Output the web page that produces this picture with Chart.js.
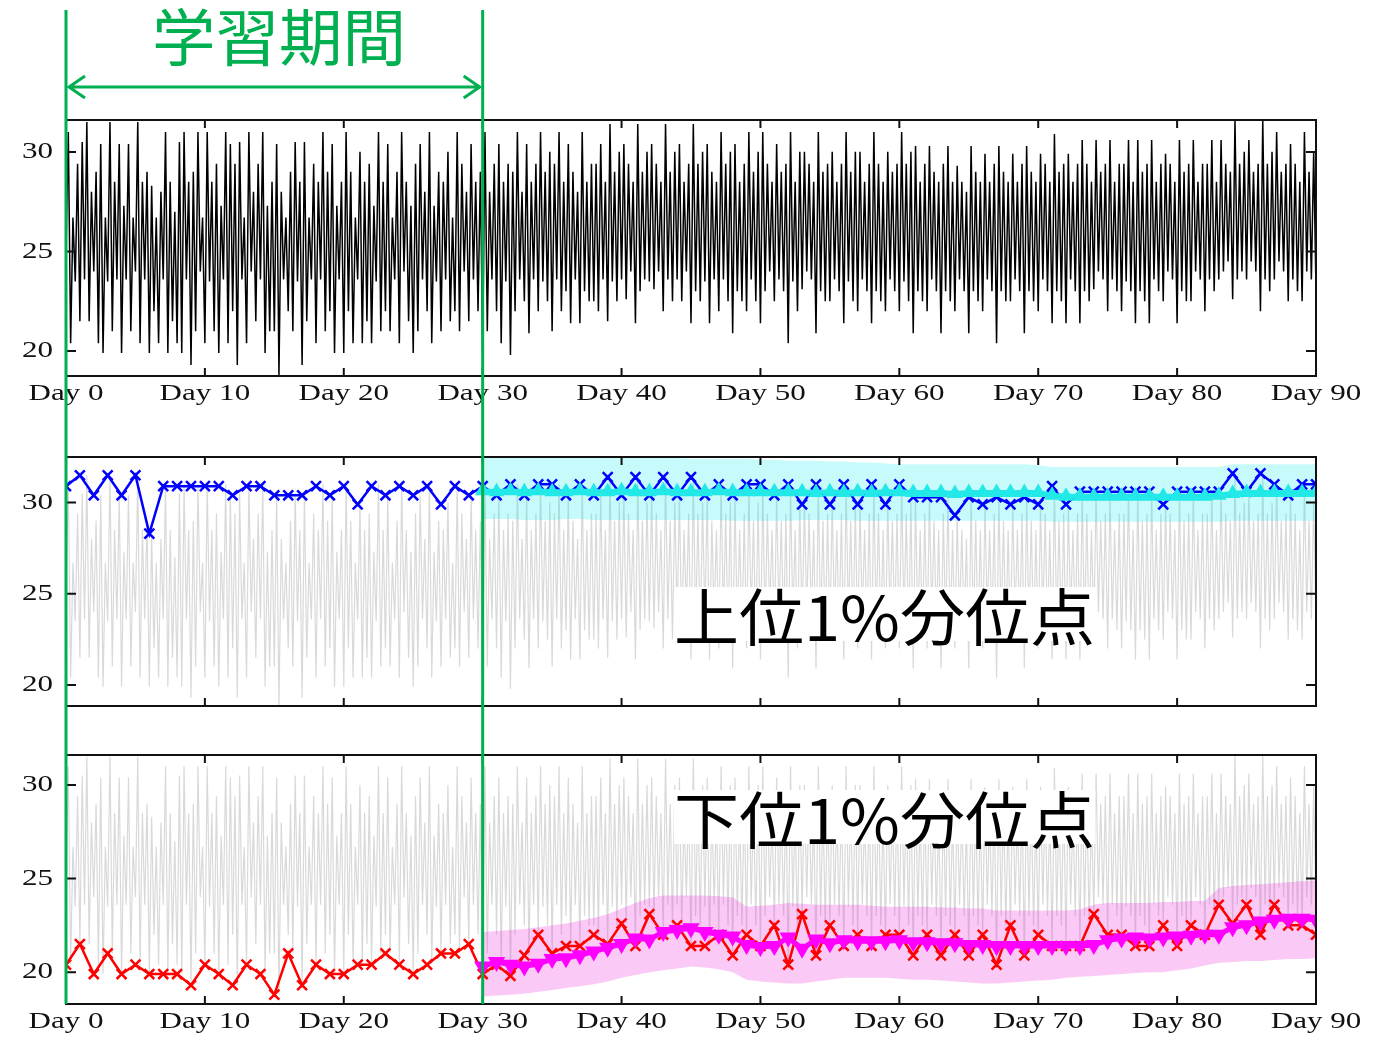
<!DOCTYPE html>
<html>
<head>
<meta charset="utf-8">
<script src="https://cdn.jsdelivr.net/npm/chart.js@4.4.1/dist/chart.umd.min.js"></script>
<style>
body { margin: 0; background: #fff; width: 1388px; height: 1040px; overflow: hidden; position: relative; }
.box { position: absolute; left: 0; width: 1388px; }
.lbl { position: absolute; white-space: nowrap; font-family: "Noto Sans CJK JP", sans-serif; font-size: 62px; line-height: 62px; transform-origin: 0 0; }
.cap { line-height: 54px; background: #fff; color: #000; }
</style>
</head>
<body>
<div class="box" style="top:0;height:415px"><canvas id="c1"></canvas></div>
<div class="box" style="top:415px;height:315px"><canvas id="c2"></canvas></div>
<div class="box" style="top:730px;height:310px"><canvas id="c3"></canvas></div>
<div class="lbl" id="tTrain" style="left:152px;top:3px;color:#00b050">学習期間</div>
<div class="lbl cap" id="tUpper" style="left:674px;top:587px">上位1%分位点</div>
<div class="lbl cap" id="tLower" style="left:674px;top:790px">下位1%分位点</div>
<script>
// axis ticks
var dayTicks = [0, 10, 20, 30, 40, 50, 60, 70, 80, 90];
var dayLabels = dayTicks.map(function(d) { return 'Day ' + d; });
var yTicks = [20, 25, 30];
var trainDays = [0, 30];

// temperature, 6 samples per day (day 0 .. day 90)
var temp = [
  25, 31, 20.4, 26.7, 23.5, 29.4,
  21.5, 30.5, 23.6, 31.5, 21.5, 28,
  24, 29, 20.4, 30.4, 19.9, 26.7,
  23.5, 31.5, 21, 28.5, 23.6, 30.4,
  19.9, 27.3, 23.6, 30.4, 21, 26.7,
  24, 31.5, 20.4, 28.5, 23.6, 29,
  19.9, 28.3, 22, 26.7, 20.4, 28,
  23.6, 31, 19.9, 28.5, 21.5, 27,
  20.4, 30.5, 19.9, 31, 23.6, 28.5,
  19.3, 29, 21, 31, 24, 26.7,
  20.4, 31, 23.5, 28.5, 21, 29.4,
  19.9, 27.3, 23.6, 31, 20.4, 30.4,
  22, 29.4, 19.3, 30.5, 23.6, 26.7,
  20.4, 31, 24, 28, 21.5, 29.4,
  23.6, 31, 19.9, 27.3, 21, 28.5,
  21, 30.4, 18.8, 28, 23.6, 26.7,
  22, 29, 21, 30.5, 23.5, 28.5,
  19.3, 30.5, 21.5, 26.7, 23.6, 29.4,
  20.4, 28.5, 23.6, 31, 21, 29,
  22, 30.4, 19.9, 27.3, 23.6, 28.5,
  19.9, 31, 22, 29, 20.4, 26.7,
  23.6, 30, 20.4, 28.5, 21.5, 29.4,
  20.4, 27.3, 23.5, 31, 21, 28.5,
  22, 30.4, 21, 26.7, 23.6, 29,
  20.4, 31, 24, 28.5, 21.5, 27.3,
  19.9, 29.4, 21, 30.4, 23.6, 28,
  22, 31, 20.4, 27.3, 23.5, 29,
  21, 28.5, 23.6, 30, 21.5, 26.7,
  22, 31, 21, 29.4, 24, 28,
  21.5, 30.4, 23.6, 28.5, 22, 29,
  19.9, 31, 21, 28, 23.6, 29.4,
  22, 30.4, 20.4, 28.5, 23.5, 29.4,
  19.8, 29, 22, 31, 23.6, 28,
  22.5, 30.4, 20.9, 28.5, 23.6, 29.4,
  22, 31, 23.5, 29, 22.5, 30,
  21, 29.4, 23.6, 31, 22, 28.5,
  23, 30.4, 21.4, 29, 23.6, 28,
  21.4, 31, 23, 28.5, 22.5, 29.4,
  22.5, 29.4, 22, 30.4, 23.6, 28.5,
  21.5, 31.4, 23.5, 29, 22.5, 30,
  23.6, 30.4, 22.6, 29.4, 24, 28.5,
  21.4, 31.4, 23, 29, 23.6, 30,
  23.5, 30.4, 23.1, 29.4, 24, 28.5,
  22, 31.4, 23.6, 29, 22.5, 30,
  23.6, 30.4, 22.5, 28.5, 24, 29.4,
  21.4, 31.4, 23, 29.4, 22.5, 30,
  23.5, 30.4, 21.4, 29, 23.6, 28.5,
  22, 31, 23.6, 29.4, 22.5, 30,
  20.9, 30.4, 23, 28.5, 22.5, 29.4,
  22, 31, 23.6, 29, 22.5, 30,
  21.4, 31, 23, 29.4, 24, 28.5,
  22.5, 30.4, 23.6, 29, 23, 29.4,
  20.4, 31, 23.5, 28.5, 22, 30,
  23.1, 30, 24, 29.4, 23.6, 28.5,
  20.9, 31, 23, 29, 22.5, 29.4,
  22.5, 30, 23.6, 28.5, 23, 29.4,
  21.4, 31, 23.5, 29, 22.5, 30,
  22, 30, 23.6, 28.5, 23, 29.4,
  21.4, 31, 23, 29.4, 22.5, 28.5,
  22, 30, 23.6, 29, 23, 29.4,
  22, 31, 23.5, 29.4, 22.5, 30,
  20.9, 30.3, 23, 28.5, 22.5, 29.4,
  22, 30.3, 23.6, 29, 23, 28.5,
  20.9, 29.4, 23, 30.3, 22.5, 28.5,
  22, 29.3, 23.6, 28.5, 23, 28,
  20.9, 30.3, 23, 29, 22.5, 28.5,
  22, 29.9, 23.6, 28.5, 23, 29.4,
  20.4, 30.3, 23, 29, 22.5, 28.5,
  22.5, 29.9, 23.6, 28.5, 23, 29.4,
  20.9, 30.3, 23, 29, 22.5, 28.5,
  22, 29.9, 23.6, 29.4, 23, 28.5,
  21.4, 30.9, 23, 29, 22.5, 29.4,
  21.4, 29.9, 23.6, 28.5, 23, 29.4,
  21.4, 30.6, 23, 29.4, 22.5, 28.5,
  23.1, 30.6, 24, 29, 23.6, 29.4,
  22, 30.6, 23.6, 28.5, 23, 29.4,
  22, 29.4, 23.5, 30.6, 23, 28.5,
  21.4, 30.6, 23, 29, 22.5, 29.4,
  21.4, 30.6, 23.6, 28.5, 23, 29.4,
  22.5, 29.9, 24, 29.4, 23.6, 28.5,
  21.4, 30.6, 23, 29, 22.5, 29.4,
  22.5, 30.6, 24, 28.5, 23.6, 29.4,
  22, 29.4, 23.6, 30.6, 23, 28.5,
  23.6, 30.6, 24, 29.4, 24.5, 29,
  22.6, 31.6, 23.6, 29.4, 24, 30,
  23.6, 30.6, 24.5, 29, 24, 29.4,
  22, 31.6, 23.6, 29.4, 23, 30,
  23.6, 31, 24.5, 29, 24, 29.4,
  22.5, 30.4, 23.6, 29.4, 23, 28.5,
  22.5, 31, 24, 29, 23.6, 30,
  23
];

// daily upper / lower 1% quantile (day 0 .. day 90)
var dailyMax = [
  30.9, 31.5, 30.4, 31.5, 30.4, 31.5, 28.3, 30.9, 30.9, 30.9,
  30.9, 30.9, 30.4, 30.9, 30.9, 30.4, 30.4, 30.4, 30.9, 30.4,
  30.9, 29.9, 30.9, 30.4, 30.9, 30.4, 30.9, 29.9, 30.9, 30.4,
  30.9, 30.4, 31.0, 30.4, 31.0, 31.0, 30.4, 31.0, 30.4, 31.4,
  30.4, 31.4, 30.4, 31.4, 30.4, 31.4, 30.4, 31.0, 30.4, 31.0,
  31.0, 30.4, 31.0, 29.9, 31.0, 29.9, 31.0, 29.9, 31.0, 29.9,
  31.0, 30.3, 30.3, 30.3, 29.3, 30.3, 29.9, 30.3, 29.9, 30.3,
  29.9, 30.9, 29.9, 30.6, 30.6, 30.6, 30.6, 30.6, 30.6, 29.9,
  30.6, 30.6, 30.6, 30.6, 31.6, 30.6, 31.6, 31.0, 30.4, 31.0,
  31.0
];
var dailyMin = [
  20.4, 21.5, 19.9, 21.0, 19.9, 20.4, 19.9, 19.9, 19.9, 19.3,
  20.4, 19.9, 19.3, 20.4, 19.9, 18.8, 21.0, 19.3, 20.4, 19.9,
  19.9, 20.4, 20.4, 21.0, 20.4, 19.9, 20.4, 21.0, 21.0, 21.5,
  19.9, 20.4, 19.8, 20.9, 22.0, 21.0, 21.4, 21.4, 22.0, 21.5,
  22.6, 21.4, 23.1, 22.0, 22.5, 21.4, 21.4, 22.0, 20.9, 22.0,
  21.4, 22.5, 20.4, 23.1, 20.9, 22.5, 21.4, 22.0, 21.4, 22.0,
  22.0, 20.9, 22.0, 20.9, 22.0, 20.9, 22.0, 20.4, 22.5, 20.9,
  22.0, 21.4, 21.4, 21.4, 23.1, 22.0, 22.0, 21.4, 21.4, 22.5,
  21.4, 22.5, 22.0, 23.6, 22.6, 23.6, 22.0, 23.6, 22.5, 22.5,
  22.0
];

// predictions after training (day 30 .. day 90)
var upperPred = [
  30.65, 30.6, 30.65, 30.6, 30.65, 30.6, 30.6, 30.65, 30.6, 30.6,
  30.65, 30.6, 30.6, 30.65, 30.6, 30.6, 30.6, 30.65, 30.6, 30.6,
  30.6, 30.6, 30.6, 30.6, 30.55, 30.6, 30.55, 30.6, 30.55, 30.6,
  30.6, 30.55, 30.55, 30.55, 30.5, 30.55, 30.55, 30.55, 30.55, 30.55,
  30.55, 30.4, 30.35, 30.35, 30.35, 30.35, 30.35, 30.35, 30.35, 30.35,
  30.35, 30.35, 30.35, 30.4, 30.5, 30.55, 30.55, 30.55, 30.55, 30.55,
  30.55
];
var upperHi = [
  32.45, 32.45, 32.45, 32.45, 32.45, 32.45, 32.45, 32.45, 32.45, 32.45,
  32.45, 32.45, 32.45, 32.45, 32.45, 32.4, 32.4, 32.4, 32.4, 32.4,
  32.35, 32.35, 32.3, 32.3, 32.3, 32.25, 32.25, 32.2, 32.2, 32.15,
  32.1, 32.1, 32.1, 32.1, 32.1, 32.1, 32.1, 32.1, 32.1, 32.1,
  32.05, 31.95, 31.95, 31.95, 31.95, 31.95, 31.95, 31.95, 31.95, 31.95,
  31.95, 31.95, 31.95, 31.95, 32.1, 32.1, 32.1, 32.1, 32.1, 32.1,
  32.1
];
var upperLo = [
  29.1, 29.1, 29.1, 29.05, 29.05, 29.05, 29.1, 29.1, 29.05, 29.05,
  29.05, 29.05, 29.05, 29.05, 29.05, 29.05, 29.05, 29.05, 29.0, 29.0,
  29.0, 29.0, 29.0, 29.05, 29.05, 29.05, 29.05, 29.0, 29.0, 29.0,
  29.0, 29.0, 29.0, 29.0, 29.0, 29.0, 29.0, 29.0, 29.0, 29.0,
  29.0, 28.95, 28.95, 28.95, 28.95, 28.95, 28.95, 28.95, 28.95, 28.95,
  28.95, 28.95, 28.95, 28.95, 29.0, 29.0, 29.0, 29.0, 29.0, 29.0,
  29.0
];
var lowerPred = [
  20.3, 20.55, 20.4, 20.3, 20.45, 20.7, 20.75, 20.9, 21.1, 21.3,
  21.5, 21.8, 21.75, 22.15, 22.25, 22.35, 22.15, 22.0, 21.9, 21.45,
  21.35, 21.4, 21.85, 21.25, 21.75, 21.55, 21.7, 21.65, 21.65, 21.65,
  21.7, 21.6, 21.6, 21.55, 21.55, 21.45, 21.45, 21.4, 21.4, 21.4,
  21.4, 21.4, 21.4, 21.4, 21.45, 21.7, 21.8, 21.85, 21.8, 21.85,
  21.9, 21.95, 22.0, 22.0, 22.4, 22.5, 22.7, 22.8, 22.85, 22.85,
  22.8
];
var lowerHi = [
  22.15, 22.2, 22.25, 22.3, 22.4, 22.5, 22.6, 22.75, 22.9, 23.1,
  23.4, 23.7, 23.95, 24.1, 24.1, 24.1, 24.1, 24.05, 24.0, 23.5,
  23.55, 23.6, 23.7, 23.65, 23.6, 23.6, 23.6, 23.6, 23.55, 23.5,
  23.5, 23.5, 23.5, 23.45, 23.45, 23.4, 23.4, 23.3, 23.3, 23.3,
  23.3, 23.3, 23.3, 23.35, 23.6, 23.7, 23.7, 23.7, 23.7, 23.75,
  23.75, 23.8, 23.8, 24.5, 24.6, 24.65, 24.7, 24.75, 24.8, 24.85,
  24.9
];
var lowerLo = [
  18.7, 18.75, 18.8, 18.85, 18.95, 19.05, 19.15, 19.25, 19.35, 19.5,
  19.7, 19.85, 20.0, 20.1, 20.2, 20.3, 20.25, 20.15, 20.0, 19.6,
  19.5, 19.45, 19.4, 19.4, 19.5, 19.6, 19.7, 19.7, 19.7, 19.7,
  19.65, 19.6, 19.6, 19.55, 19.5, 19.45, 19.4, 19.4, 19.45, 19.5,
  19.55, 19.6, 19.7, 19.75, 19.8, 19.85, 19.9, 19.95, 20.0, 20.0,
  20.1, 20.2, 20.35, 20.5, 20.55, 20.6, 20.6, 20.65, 20.7, 20.7,
  20.75
];

function series(arr, start, step) {
  return arr.map(function(v, i) { return { x: start + i * step, y: v }; });
}
var tempPts = series(temp, 0, 1 / 6);

var GREEN = '#00b050';

function drawText(ctx, t, x, y, align) {
  ctx.save();
  ctx.translate(x, y);
  ctx.scale(1.35, 1);
  ctx.textAlign = align;
  ctx.fillText(t, 0, 0);
  ctx.restore();
}

// box, inward ticks, tick labels and the training-period lines
var frame = {
  id: 'frame',
  afterDatasetsDraw: function(chart, args, o) {
    var ctx = chart.ctx, a = chart.chartArea, x = chart.scales.x, y = chart.scales.y;
    ctx.save();
    ctx.strokeStyle = '#111';
    ctx.lineWidth = 2;
    ctx.strokeRect(a.left, a.top, a.right - a.left, a.bottom - a.top);
    ctx.beginPath();
    dayTicks.forEach(function(d) {
      if (d <= 0 || d >= 90) return;
      var px = x.getPixelForValue(d);
      ctx.moveTo(px, a.top); ctx.lineTo(px, a.top + 8);
      ctx.moveTo(px, a.bottom); ctx.lineTo(px, a.bottom - 8);
    });
    yTicks.forEach(function(v) {
      var py = y.getPixelForValue(v);
      ctx.moveTo(a.left, py); ctx.lineTo(a.left + 10, py);
      ctx.moveTo(a.right, py); ctx.lineTo(a.right - 10, py);
    });
    ctx.stroke();
    ctx.fillStyle = '#111';
    ctx.font = '23px "Liberation Serif"';
    ctx.textBaseline = 'middle';
    yTicks.forEach(function(v) {
      drawText(ctx, String(v), a.left - 13, y.getPixelForValue(v), 'right');
    });
    if (o.xLabels) {
      dayTicks.forEach(function(d, i) {
        drawText(ctx, dayLabels[i], x.getPixelForValue(d), a.bottom + 18, 'center');
      });
    }
    ctx.restore();
  },
  afterDraw: function(chart, args, o) {
    var ctx = chart.ctx, x = chart.scales.x;
    var y0 = o.gTop, y1 = o.gBottom == null ? chart.height : o.gBottom;
    ctx.save();
    ctx.strokeStyle = GREEN;
    ctx.lineWidth = 3;
    ctx.beginPath();
    trainDays.forEach(function(d) {
      var px = x.getPixelForValue(d);
      ctx.moveTo(px, y0); ctx.lineTo(px, y1);
    });
    ctx.stroke();
    if (o.arrow) {
      var xa = x.getPixelForValue(trainDays[0]) + 3, xb = x.getPixelForValue(trainDays[1]) - 3, ay = 87;
      ctx.beginPath();
      ctx.moveTo(xa, ay); ctx.lineTo(xb, ay);
      ctx.moveTo(xa + 16, ay - 11); ctx.lineTo(xa, ay); ctx.lineTo(xa + 16, ay + 11);
      ctx.moveTo(xb - 16, ay - 11); ctx.lineTo(xb, ay); ctx.lineTo(xb - 16, ay + 11);
      ctx.stroke();
    }
    ctx.restore();
  }
};

function makeChart(id, datasets, ymin, ymax, pad, frameOpt) {
  return new Chart(document.getElementById(id), {
    type: 'line',
    data: { datasets: datasets },
    options: {
      responsive: true,
      maintainAspectRatio: false,
      animation: false,
      layout: { padding: pad },
      scales: {
        x: { type: 'linear', min: 0, max: 90, display: false },
        y: { min: ymin, max: ymax, display: false }
      },
      plugins: { legend: { display: false }, tooltip: { enabled: false }, frame: frameOpt }
    },
    plugins: [frame]
  });
}

var greyLine = { data: tempPts, borderColor: 'rgba(210,210,210,0.85)', borderWidth: 1.2, pointRadius: 0, order: 9 };

makeChart('c1', [
  { data: tempPts, borderColor: '#000', borderWidth: 1.5, pointRadius: 0 }
], 18.75, 31.6, { left: 66, right: 72, top: 120, bottom: 39 }, { xLabels: true, gTop: 10, arrow: true });

makeChart('c2', [
  Object.assign({}, greyLine),
  { data: series(upperHi, 30, 1), borderWidth: 0, pointRadius: 0, fill: '+1', backgroundColor: 'rgba(0,230,230,0.22)', order: 8 },
  { data: series(upperLo, 30, 1), borderWidth: 0, pointRadius: 0, fill: false, order: 8 },
  { data: series(dailyMax, 0, 1), borderColor: '#0000ff', borderWidth: 2.5, pointStyle: 'crossRot', pointRadius: 7,
    pointBorderWidth: 2.5, pointBorderColor: '#0000ff', order: 3 },
  { data: series(upperPred, 30, 1), borderColor: '#22e8e8', borderWidth: 5, pointStyle: 'triangle', pointRadius: 4,
    pointBackgroundColor: '#22e8e8', pointBorderColor: '#22e8e8', order: 1 }
], 18.85, 32.5, { left: 66, right: 72, top: 42, bottom: 24 }, { xLabels: false, gTop: 0 });

makeChart('c3', [
  Object.assign({}, greyLine),
  { data: series(lowerHi, 30, 1), borderWidth: 0, pointRadius: 0, fill: '+1', backgroundColor: 'rgba(235,40,220,0.25)', order: 8 },
  { data: series(lowerLo, 30, 1), borderWidth: 0, pointRadius: 0, fill: false, order: 8 },
  { data: series(dailyMin, 0, 1), borderColor: '#ff0000', borderWidth: 2.5, pointStyle: 'crossRot', pointRadius: 7,
    pointBorderWidth: 2.5, pointBorderColor: '#ff0000', order: 3 },
  { data: series(lowerPred, 30, 1), borderColor: '#ff00ff', borderWidth: 5, pointStyle: 'triangle', pointRotation: 180, pointRadius: 5,
    pointBackgroundColor: '#ff00ff', pointBorderColor: '#ff00ff', order: 1 }
], 18.3, 31.6, { left: 66, right: 72, top: 25, bottom: 36 }, { xLabels: true, gTop: 0, gBottom: 274 });

// stretch the overlay captions to the widths in the picture
[['tTrain', 254], ['tUpper', 421], ['tLower', 421]].forEach(function(p) {
  var el = document.getElementById(p[0]);
  el.style.transform = 'scaleX(' + (p[1] / el.getBoundingClientRect().width) + ')';
});
</script>
</body>
</html>
